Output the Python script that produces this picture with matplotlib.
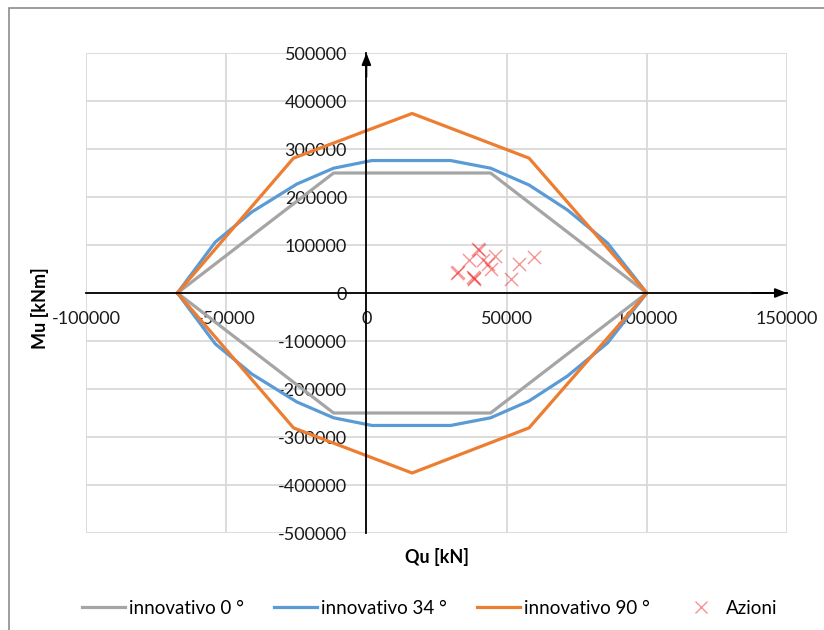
import matplotlib
matplotlib.use("Agg")
import matplotlib.pyplot as plt
from matplotlib.patches import Rectangle
from matplotlib.lines import Line2D

plt.rcParams['font.family'] = ['Lato', 'DejaVu Sans']

# ---- data ----
gray_x = [-67400, -11700, 44300, 100000, 44300, -11700, -67400]
gray_y = [0, 250000, 250000, 0, -250000, -250000, 0]

blue_x = [-67400, -53900, -40800, -24800, -11700, 2000, 30000, 44300, 58000, 71700, 86000, 100000,
          86000, 71700, 58000, 44300, 30000, 2000, -11700, -24800, -40800, -53900, -67400]
blue_y = [0, 106000, 169000, 227000, 260000, 276000, 276000, 260000, 225000, 173000, 104000, 0,
          -104000, -173000, -225000, -260000, -276000, -276000, -260000, -227000, -169000, -106000, 0]

orange_x = [-67400, -26000, 16300, 58000, 100000, 58000, 16300, -26000, -67400]
orange_y = [0, 281000, 374000, 281000, 0, -281000, -375000, -281000, 0]

az_x = [39800, 36500, 41500, 46000, 43300, 32400, 38300, 38300, 38000, 44300, 54400, 59800, 51400, 40000, 32600]
az_y = [91000, 69600, 69600, 76500, 61000, 42000, 30000, 31000, 33000, 51000, 61000, 75000, 30000, 90000, 43000]

labels = ['innovativo 0 °', 'innovativo 34 °', 'innovativo 90 °', 'Azioni']
xticks = [-100000, -50000, 0, 50000, 100000, 150000]
yticks = [-500000, -400000, -300000, -200000, -100000, 0, 100000, 200000, 300000, 400000, 500000]

c_gray = '#A5A5A5'
c_blue = '#5B9BD5'
c_orange = '#ED7D31'
c_red = '#F02828'

fig = plt.figure(figsize=(8.24, 6.30), dpi=100)
ax = fig.add_axes([86/824, 1-533/630, (787-86)/824, (533-53)/630])

ax.plot(gray_x, gray_y, color=c_gray, lw=2.3, label=labels[0], zorder=3)
ax.plot(blue_x, blue_y, color=c_blue, lw=2.3, label=labels[1], zorder=3)
ax.plot(orange_x, orange_y, color=c_orange, lw=2.3, label=labels[2], zorder=3)
ax.scatter(az_x, az_y, marker='x', s=90, color=c_red, alpha=0.5, linewidths=1.0,
           label=labels[3], zorder=4)

ax.set_xlim(-100000, 150000)
ax.set_ylim(-500000, 500000)
ax.set_xticks(xticks)
ax.set_yticks(yticks)
ax.set_xticklabels([str(v) for v in xticks])
ax.set_yticklabels([str(v) for v in yticks])
ax.grid(True, color='#D9D9D9', lw=1.3, zorder=0)
ax.set_axisbelow(True)

for s in ['top', 'right']:
    ax.spines[s].set_visible(False)
ax.spines['left'].set_position(('data', 0))
ax.spines['bottom'].set_position(('data', 0))
ax.spines['left'].set_linewidth(1.3)
ax.spines['bottom'].set_linewidth(1.3)
ax.spines['left'].set_zorder(5)
ax.spines['bottom'].set_zorder(5)
ax.tick_params(axis='both', length=0, labelsize=13, colors='#1a1a1a')
ax.tick_params(axis='y', pad=14)
ax.tick_params(axis='x', pad=13)

# arrow heads at the ends of the axes
arrow_kw = dict(arrowstyle='-|>,head_length=0.7,head_width=0.28', color='black', lw=1.3,
                shrinkA=0, shrinkB=0)
ax.annotate('', xy=(1, 0), xytext=(0.95, 0), xycoords=ax.get_yaxis_transform(),
            arrowprops=arrow_kw, annotation_clip=False, zorder=6)
ax.annotate('', xy=(0, 1), xytext=(0, 0.95), xycoords=ax.get_xaxis_transform(),
            arrowprops=arrow_kw, annotation_clip=False, zorder=6)

fig.text(437/824, 1-557/630, 'Qu [kN]', ha='center', va='center', fontsize=13, fontweight='bold')
fig.text(40/824, 1-308/630, 'Mu [kNm]', ha='center', va='center', rotation=90, fontsize=13, fontweight='bold')

handles = [Line2D([], [], color=c_gray, lw=2.3),
           Line2D([], [], color=c_blue, lw=2.3),
           Line2D([], [], color=c_orange, lw=2.3),
           Line2D([], [], color=c_red, alpha=0.5, marker='x', ls='none', ms=9, mew=1.0)]
fig.legend(handles, labels, loc='center', bbox_to_anchor=(430/824, 1-608/630), ncol=4,
           frameon=False, fontsize=13.5, handlelength=2.3, handletextpad=0.2, columnspacing=1.6)

fig.patches.append(Rectangle((9/824, -0.1), 2, 1 - 8/630 + 0.1, transform=fig.transFigure,
                             fill=False, edgecolor='#8C8C8C', lw=1.2))

fig.savefig('out.png', dpi=100)
